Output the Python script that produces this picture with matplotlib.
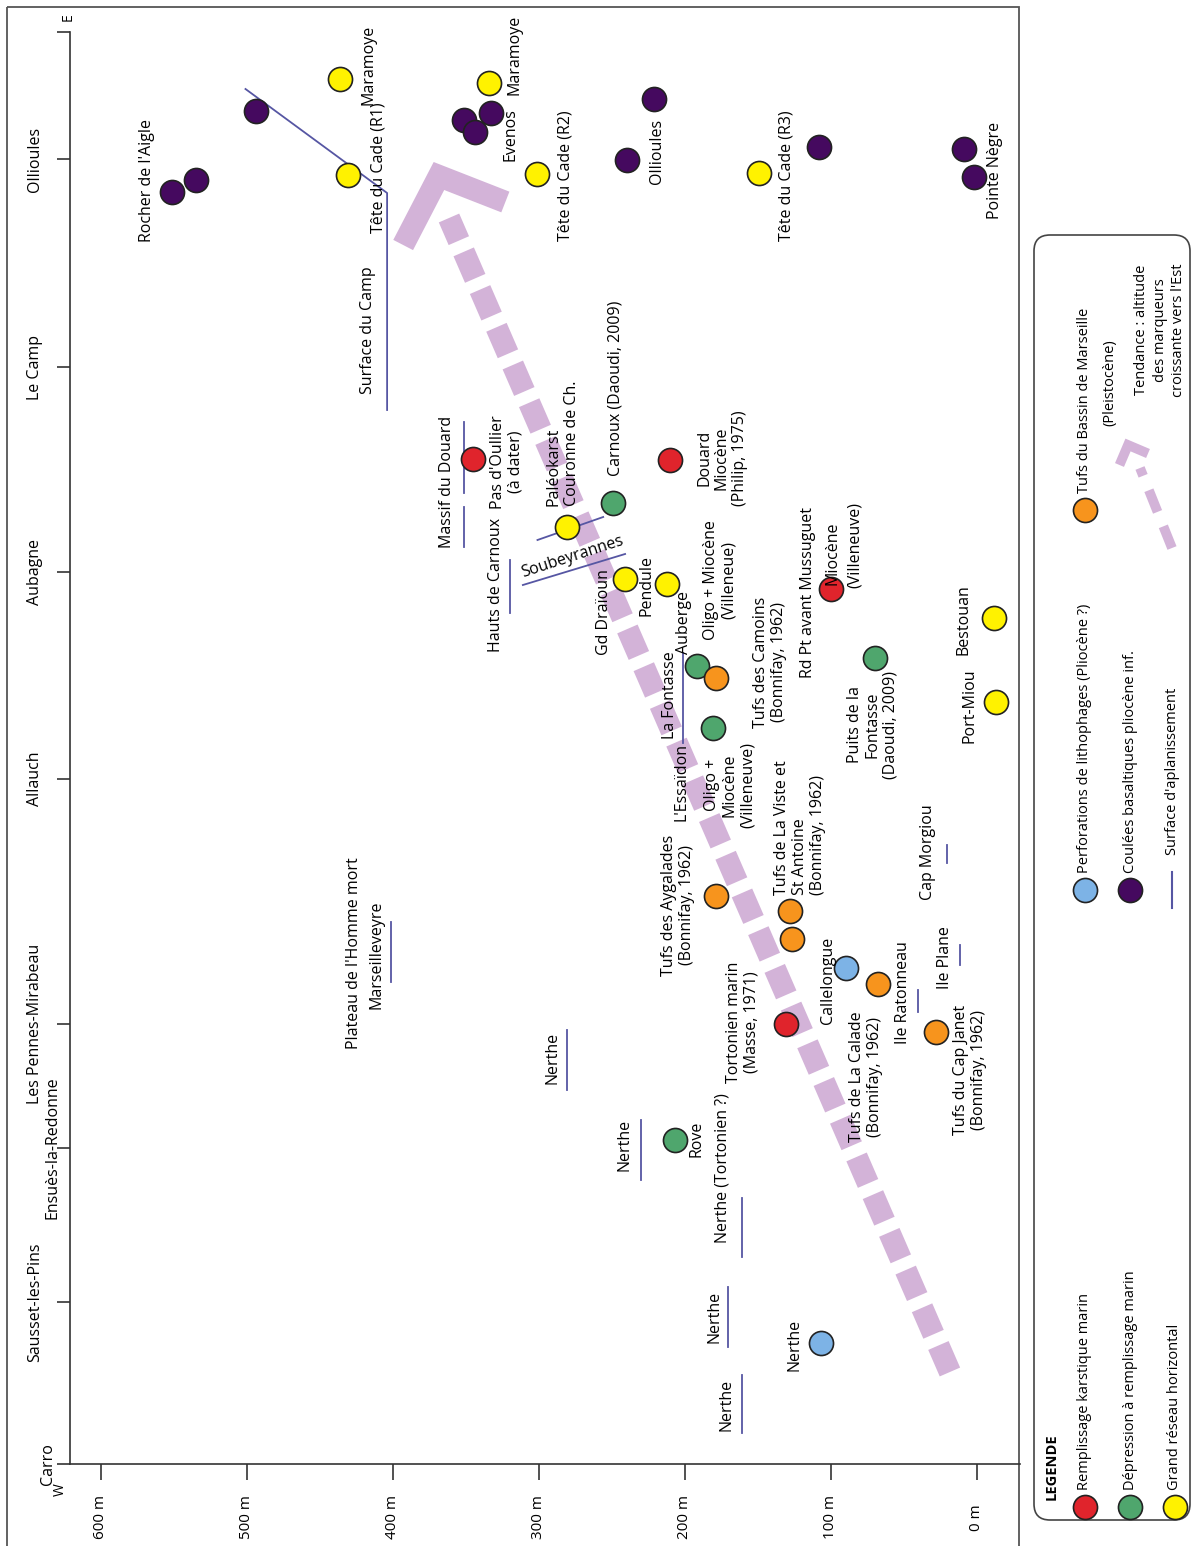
import matplotlib
matplotlib.use('Agg')
import matplotlib.pyplot as plt
from matplotlib.patches import FancyBboxPatch, Rectangle
from matplotlib import transforms

plt.rcParams['font.family'] = ['Open Sans', 'DejaVu Sans']

# ---------------------------------------------------------------
# Data : altitude (m) and position along the W-E section
# (position in arbitrary units, Carro = 0, E end = 143.2)
# ---------------------------------------------------------------
loc_names = ['Carro', 'Sausset-les-Pins', 'Ensuès-la-Redonne', 'Les Pennes-Mirabeau',
             'Allauch', 'Aubagne', 'Le Camp', 'Ollioules']
loc_pos = [0, 16.2, 31.6, 44.0, 68.5, 89.2, 109.7, 130.5]
axis_end = 143.2

alt_ticks = [600, 500, 400, 300, 200, 100, 0]
alt_labels = ['600 m', '500 m', '400 m', '300 m', '200 m', '100 m', '0 m']

# remplissage karstique marin (red)
karst_alt = [345, 210, 100, 131]
karst_pos = [100.5, 100.4, 87.5, 44.0]
# depression a remplissage marin (green)
depr_alt = [249, 192, 181, 70, 207]
depr_pos = [96.1, 79.8, 73.6, 80.6, 32.4]
# grand reseau horizontal (yellow)
reseau_alt = [436, 431, 334, 301, 149, 281, 241, 212, -12, -13]
reseau_pos = [138.5, 128.9, 138.1, 129.0, 129.1, 93.7, 88.5, 88.0, 84.6, 76.2]
# perforations de lithophages (blue)
litho_alt = [90, 107]
litho_pos = [49.6, 12.1]
# coulees basaltiques (purple)
basalt_alt = [494, 535, 551, 351, 333, 344, 240, 221, 108, 9, 2]
basalt_pos = [135.3, 128.4, 127.2, 134.4, 135.1, 133.2, 130.4, 136.5, 131.7, 131.5, 128.7]
# tufs du bassin de Marseille (orange)
tufs_alt = [179, 179, 128, 127, 68, 28]
tufs_pos = [78.6, 56.8, 55.3, 52.5, 48.0, 43.2]

# surfaces d'aplanissement
camp_alt = [501, 404, 404]
camp_pos = [137.5, 127.1, 105.4]
flat_alt = [351, 351, 320, 201, 20.5, 11.6, 40.4, 401, 281, 230, 161, 170.5, 161]
flat_pos0 = [104.2, 95.7, 90.4, 81.1, 61.9, 51.9, 47.4, 54.2, 43.4, 34.4, 26.6, 17.7, 8.9]
flat_pos1 = [97.1, 91.7, 85.1, 72.1, 60.1, 49.9, 45.2, 48.2, 37.4, 28.4, 20.7, 11.7, 3.1]
paleo_alt = [301, 256]
paleo_pos = [92.4, 94.7]
soub_alt = [311, 241]
soub_pos = [87.9, 91.0]

# tendance
trend_alt = [18.5, 361.6]
trend_pos = [9.2, 124.6]
chev_alt = [323, 368.5, 393]
chev_pos = [126.2, 128.8, 121.9]

# labels : text, altitude, position, alignment
labels = [
    ("Rocher de l'Aigle", 568.5, 128.3, 'center'),
    ("Maramoye", 417, 139.9, 'center'),
    ("Tête du Cade (R1)", 409.6, 129.6, 'center'),
    ("Surface du Camp", 417, 113.4, 'center'),
    ("Maramoye", 316.4, 140.9, 'center'),
    ("Evenos", 319.2, 132.9, 'center'),
    ("Tête du Cade (R2)", 281.5, 128.8, 'center'),
    ("Ollioules", 219.2, 131.3, 'center'),
    ("Tête du Cade (R3)", 130.1, 128.8, 'center'),
    ("Pointe Nègre", -12.3, 129.4, 'center'),
    ("Massif du Douard", 363, 98.2, 'center'),
    ("Hauts de Carnoux", 329.5, 87.9, 'center'),
    ("Pas d'Oullier\n(à dater)", 321.9, 100.2, 'center'),
    ("Paléokarst\nCouronne de Ch.", 283.6, 102.1, 'left'),
    ("Carnoux (Daoudi, 2009)", 247.9, 107.6, 'center'),
    ("Douard\nMiocène\n(Philip, 1975)", 174.7, 100.6, 'center'),
    ("Gd Draïoun", 255.5, 85.2, 'center'),
    ("Pendule", 226, 87.9, 'center'),
    ("Auberge", 200.7, 84.2, 'center'),
    ("Oligo + Miocène\n(Villeneue)", 176, 88.4, 'center'),
    ("Tufs des Camoins\n(Bonnifay, 1962)", 141.8, 80.2, 'center'),
    ("Rd Pt avant Mussuguet", 115.8, 87.1, 'center'),
    ("Miocène", 98.6, 91.1, 'center'),
    ("(Villeneuve)", 83.6, 91.9, 'center'),
    ("Bestouan", 8.9, 84.4, 'center'),
    ("Port-Miou", 4.8, 75.8, 'center'),
    ("Puits de la\nFontasse\n(Daoudi, 2009)", 71.2, 73.9, 'center'),
    ("La Fontasse", 210.3, 76.9, 'center'),
    ("L'Essaïdon", 202.1, 68.2, 'center'),
    ("Oligo +\nMiocène\n(Villeneuve)", 169.2, 67.9, 'center'),
    ("Tufs de La Viste et\nSt Antoine\n(Bonnifay, 1962)", 121.2, 63.6, 'left'),
    ("Tufs des Aygalades\n(Bonnifay, 1962)", 204.8, 55.9, 'center'),
    ("Cap Morgiou", 33.6, 61.2, 'center'),
    ("Tortonien marin\n(Masse, 1971)", 160.3, 44.2, 'center'),
    ("Callelongue", 102.1, 48.4, 'center'),
    ("Ile Ratonneau", 50.7, 47.1, 'center'),
    ("Ile Plane", 21.9, 50.6, 'center'),
    ("Tufs de La Calade\n(Bonnifay, 1962)", 76, 38.7, 'center'),
    ("Tufs du Cap Janet\n(Bonnifay, 1962)", 4.8, 39.4, 'center'),
    ("Rove", 191.8, 32.5, 'center'),
    ("Nerthe (Tortonien ?)", 174, 29.6, 'center'),
    ("Nerthe", 241.1, 31.9, 'center'),
    ("Nerthe", 290.4, 40.6, 'center'),
    ("Nerthe", 179.5, 14.7, 'center'),
    ("Nerthe", 124.7, 11.9, 'center'),
    ("Nerthe", 171.2, 5.9, 'center'),
    ("Plateau de l'Homme mort", 426.7, 51.1, 'center'),
    ("Marseilleveyre", 411, 50.9, 'center'),
]

# colours
c_red = '#e0242c'
c_green = '#4fa66d'
c_yellow = '#fff200'
c_blue = '#7db3e6'
c_purple = '#45095f'
c_orange = '#f7941d'
c_line = '#5656a3'
c_trend = '#d3b3d8'
c_axis = '#333333'

W, H = 1192, 1546
fig = plt.figure(figsize=(W / 100, H / 100), dpi=100)

# overlay in pixel coordinates for the frame and the legend
lax = fig.add_axes([0, 0, 1, 1], zorder=0)
lax.set_xlim(0, W)
lax.set_ylim(H, 0)
lax.axis('off')
lax.add_patch(Rectangle((7, 7), 1012, 1560, fill=False, ec='#555555', lw=1.3))

ax = fig.add_axes([70 / W, 1 - 1464 / H, 950 / W, 1432 / H], zorder=1)
ax.set_facecolor('none')
ax.set_xlim(621.2, -29.5)
ax.set_ylim(0, axis_end)
for s in ['top', 'right']:
    ax.spines[s].set_visible(False)
for s in ['left', 'bottom']:
    ax.spines[s].set_color(c_axis)
    ax.spines[s].set_linewidth(1.2)

ax.set_xticks(alt_ticks)
ax.set_xticklabels(alt_labels, rotation=90, va='center', ha='center', fontsize=11)
ax.tick_params(axis='x', direction='out', length=11.5, width=1.2, color=c_axis, pad=27)
ax.set_yticks(loc_pos + [axis_end])
ax.set_yticklabels([])
ax.tick_params(axis='y', direction='out', length=9.5, width=1.2, color=c_axis)

# location names along the W-E axis
tr = transforms.blended_transform_factory(fig.transFigure, ax.transData)
for name, p in zip(loc_names, loc_pos):
    xpix = 35
    if name == 'Ensuès-la-Redonne':
        xpix = 52
    if name == 'Carro':
        xpix = 48
    ax.text(xpix / W, p, name, transform=tr, rotation=90, ha='center', va='center',
            fontsize=11.5, clip_on=False)
lax.text(68, 17, 'E', rotation=90, ha='center', va='center', fontsize=10)
lax.text(60, 1490, 'W', rotation=90, ha='center', va='center', fontsize=10)

# trend arrow
ax.plot(trend_alt, trend_pos, color=c_trend, lw=16, dashes=(1.3, 0.55),
        dash_capstyle='butt', zorder=1)
ax.plot(chev_alt, chev_pos, color=c_trend, lw=16, solid_joinstyle='miter',
        solid_capstyle='butt', zorder=1)

# surfaces d'aplanissement
ax.plot(camp_alt, camp_pos, color=c_line, lw=1.3, zorder=2)
for a, p0, p1 in zip(flat_alt, flat_pos0, flat_pos1):
    ax.plot([a, a], [p0, p1], color=c_line, lw=1.3, zorder=2)
ax.plot(paleo_alt, paleo_pos, color=c_line, lw=1.3, zorder=2)
ax.plot(soub_alt, soub_pos, color=c_line, lw=1.3, zorder=2)

# markers
mk = dict(s=300, edgecolors='#222222', linewidths=1.2, zorder=3)
ax.scatter(karst_alt, karst_pos, c=c_red, **mk)
ax.scatter(depr_alt, depr_pos, c=c_green, **mk)
ax.scatter(reseau_alt, reseau_pos, c=c_yellow, **mk)
ax.scatter(litho_alt, litho_pos, c=c_blue, **mk)
ax.scatter(basalt_alt, basalt_pos, c=c_purple, **mk)
ax.scatter(tufs_alt, tufs_pos, c=c_orange, **mk)

for txt, a, p, al in labels:
    ax.text(a, p, txt, rotation=90, ha='center', va='center', multialignment=al,
            fontsize=11.5, zorder=4, linespacing=1.15)
ax.text(277.4, 90.7, 'Soubeyrannes', rotation=18, rotation_mode='anchor',
        ha='center', va='center', fontsize=11.5, zorder=4)

# ---------------- legend ----------------
lax.add_patch(FancyBboxPatch((1034, 235), 156, 1285,
                             boxstyle='round,pad=0,rounding_size=16',
                             fc='white', ec='#444444', lw=1.2))
lfont = dict(family=['Liberation Sans Narrow', 'Open Sans', 'DejaVu Sans'], fontsize=10.5)
lax.text(1052, 1500, 'LEGENDE', rotation=90, ha='center', va='bottom',
         fontweight='bold', **lfont)
leg_items = [
    (1085, 1507, c_red, 'Remplissage karstique marin'),
    (1130, 1507, c_green, 'Dépression à remplissage marin'),
    (1175, 1507, c_yellow, 'Grand réseau horizontal'),
    (1085, 890, c_blue, 'Perforations de lithophages (Pliocène ?)'),
    (1130, 890, c_purple, 'Coulées basaltiques pliocène inf.'),
    (1085, 510, c_orange, 'Tufs du Bassin de Marseille'),
]
for x, y, c, t in leg_items:
    lax.scatter([x], [y], s=300, c=c, edgecolors='#222222', linewidths=1.2, zorder=3)
    lax.text(x, y - 17, t, rotation=90, ha='center', va='bottom', **lfont)
lax.text(1110, 383, '(Pleistocène)', rotation=90, ha='center', va='center', **lfont)
lax.plot([1172, 1172], [872, 908], color=c_line, lw=1.5)
lax.text(1172, 855, "Surface d'aplanissement", rotation=90, ha='center', va='bottom', **lfont)
lax.plot([1172, 1140], [548, 468], color=c_trend, lw=7, dashes=(2.4, 1.6), dash_capstyle='butt')
lax.plot([1148, 1128, 1119.5], [453.5, 445, 465], color=c_trend, lw=7,
         solid_joinstyle='miter', solid_capstyle='butt')
lax.text(1160, 330, "Tendance : altitude\ndes marqueurs\ncroissante vers l'Est", rotation=90,
         ha='center', va='center', multialignment='center', linespacing=1.3, **lfont)

fig.savefig('out.png', dpi=100)
